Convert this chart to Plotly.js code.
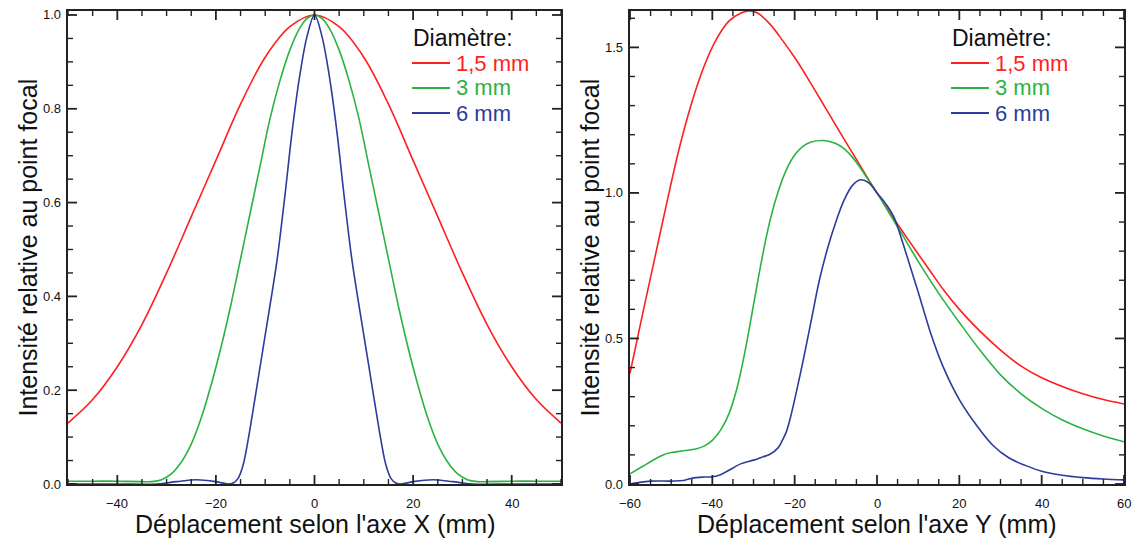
<!DOCTYPE html>
<html>
<head>
<meta charset="utf-8">
<script src="https://cdn.plot.ly/plotly-3.0.1.min.js"></script>
<style>html,body{margin:0;padding:0;background:#fff;}#chart{width:1136px;height:539px;}</style>
</head>
<body>
<div id="chart"></div>
<script>
// ---------- Data ----------
const seriesNames = ["1,5 mm", "3 mm", "6 mm"];
const seriesColors = ["#ff1f1f", "#2bb341", "#2b3c9c"];
const legendTitle = "Diamètre:";
const xTitleLeft = "Déplacement selon l'axe X (mm)";
const xTitleRight = "Déplacement selon l'axe Y (mm)";
const yTitle = "Intensité relative au point focal";

// tick labels
const xTicksLeft = [-40, -20, 0, 20, 40];
const yTicksLeft = [0, 0.2, 0.4, 0.6, 0.8, 1.0];
const xTicksRight = [-60, -40, -20, 0, 20, 40, 60];
const yTicksRight = [0, 0.5, 1.0, 1.5];

// Left panel (axe X)
const xLeftRed = [-50,-45,-40,-35,-30,-25,-20,-15,-10,-5,0,5,10,15,20,25,30,35,40,45,50];
const yLeftRed = [0.13,0.18,0.25,0.34,0.45,0.57,0.69,0.81,0.91,0.975,1.0,0.975,0.91,0.81,0.69,0.57,0.45,0.34,0.25,0.18,0.13];

const xLeftGreen = [-50,-45,-40,-35,-33,-31,-29,-27,-25,-23,-21,-19,-17,-15,-13,-11,-9,-7,-5,-3,-1.5,0,1.5,3,5,7,9,11,13,15,17,19,21,23,25,27,29,31,33,35,40,45,50];
const yLeftGreen = [0.006,0.006,0.006,0.005,0.005,0.009,0.022,0.047,0.085,0.14,0.21,0.29,0.38,0.48,0.58,0.68,0.78,0.86,0.925,0.972,0.993,1.0,0.993,0.972,0.925,0.86,0.78,0.68,0.58,0.48,0.38,0.29,0.21,0.14,0.085,0.047,0.022,0.009,0.005,0.005,0.006,0.006,0.006];

const xLeftBlue = [-50,-40,-32,-28,-24,-20,-17.5,-16.5,-15.5,-14.5,-13.5,-12.5,-11.5,-10.5,-9.5,-8.5,-7.5,-6,-4.5,-3,-1.5,0,1.5,3,4.5,6,7.5,8.5,9.5,10.5,11.5,12.5,13.5,14.5,15.5,16.5,17.5,20,24,28,32,40,50];
const yLeftBlue = [0,0,0,0.005,0.009,0.005,0,0.002,0.012,0.04,0.092,0.155,0.22,0.285,0.35,0.415,0.485,0.615,0.755,0.87,0.955,1.0,0.955,0.87,0.755,0.615,0.485,0.415,0.35,0.285,0.22,0.155,0.092,0.04,0.012,0.002,0,0.005,0.009,0.005,0,0,0];

// Right panel (axe Y)
const xRightRed = [-60,-57,-54,-51,-48,-45,-42,-39,-36,-33,-31,-29,-26,-23,-20,-17,-14,-11,-8,-5,-2,0,3,6,10,13,16,20,25,30,35,40,45,50,55,60];
const yRightRed = [0.38,0.58,0.775,0.97,1.155,1.31,1.435,1.528,1.59,1.618,1.625,1.618,1.58,1.525,1.465,1.398,1.327,1.256,1.185,1.115,1.045,1.0,0.935,0.872,0.79,0.73,0.67,0.6,0.525,0.46,0.405,0.365,0.335,0.31,0.29,0.275];

const xRightGreen = [-60,-57,-54,-52,-50,-47,-44,-42,-40,-38,-36,-34,-32,-30,-28,-26,-24,-22,-20,-18,-16,-13,-10,-8,-6,-4,-2,0,3,6,10,15,20,25,30,35,40,45,50,55,60];
const yRightGreen = [0.035,0.06,0.085,0.1,0.108,0.114,0.12,0.13,0.15,0.185,0.24,0.33,0.46,0.615,0.77,0.905,1.005,1.08,1.13,1.16,1.175,1.18,1.17,1.152,1.123,1.085,1.043,1.0,0.93,0.86,0.765,0.655,0.555,0.46,0.375,0.31,0.26,0.22,0.19,0.165,0.145];

const xRightBlue = [-60,-58,-55,-50,-47,-45,-42,-40,-38,-35,-33,-30,-28,-26,-24,-23,-22,-21,-20,-18,-16,-14,-12,-10,-8,-6,-4,-2,0,2,4,6,8,10,13,16,20,24,28,32,36,40,45,50,55,60];
const yRightBlue = [0.0,0.005,0.01,0.01,0.012,0.02,0.024,0.025,0.032,0.055,0.07,0.082,0.092,0.102,0.125,0.15,0.18,0.23,0.29,0.42,0.56,0.70,0.81,0.90,0.975,1.025,1.045,1.035,1.0,0.965,0.92,0.84,0.75,0.66,0.52,0.405,0.29,0.205,0.135,0.09,0.064,0.044,0.03,0.022,0.017,0.014];

// ---------- Build ----------
const W = 1136, H = 539;
const leftX = [68, 561], rightX = [630, 1124], plotY = [11, 484];
const fontFam = "Liberation Sans, Arial, Helvetica, sans-serif";

function line(x, y, i, xa, ya) {
  return {x: x, y: y, type: "scatter", mode: "lines", xaxis: xa, yaxis: ya,
    line: {color: seriesColors[i], width: 1.6, shape: "spline", smoothing: 1},
    name: seriesNames[i], showlegend: false, hoverinfo: "x+y"};
}
const traces = [
  line(xLeftRed, yLeftRed, 0, "x", "y"),
  line(xLeftGreen, yLeftGreen, 1, "x", "y"),
  line(xLeftBlue, yLeftBlue, 2, "x", "y"),
  line(xRightRed, yRightRed, 0, "x2", "y2"),
  line(xRightGreen, yRightGreen, 1, "x2", "y2"),
  line(xRightBlue, yRightBlue, 2, "x2", "y2")
];

// frame axes (box); tick marks are added below as axis-referenced segments
function frameAx(extra) {
  return Object.assign({
    showline: true, linecolor: "#222", linewidth: 1.5, mirror: true,
    ticks: "", showgrid: false, zeroline: false, showticklabels: false
  }, extra);
}

const px = v => v / W, py = v => 1 - v / H;
const yDom = [1 - plotY[1] / H, 1 - plotY[0] / H];
const annotations = [], shapes = [];
const tickFont = {family: fontFam, size: 13, color: "#111"};
const titleFont = {family: fontFam, size: 25, color: "#111"};
const fmtX = v => (v < 0 ? "\u2212" + Math.abs(v) : String(v));
const fmtY = v => v.toFixed(1);

// inward tick marks on all four sides (major and minor)
function tickMarks(xa, ya, xRange, xMajor, xStep, yRange, yMajor, yStep, wPx, hPx) {
  const isMajor = (arr, v) => arr.some(m => Math.abs(m - v) < 1e-6);
  const nx = Math.floor((xRange[1] - xRange[0]) / xStep + 1e-6);
  for (let i = 0; i <= nx; i++) {
    const v = xRange[0] + i * xStep;
    const maj = isMajor(xMajor, v);
    const f = (maj ? 9 : 5) / hPx;
    const st = {color: "#222", width: maj ? 1.8 : 1.4};
    shapes.push({type: "line", xref: xa, yref: ya + " domain", x0: v, x1: v, y0: 0, y1: f, line: st});
    shapes.push({type: "line", xref: xa, yref: ya + " domain", x0: v, x1: v, y0: 1, y1: 1 - f, line: st});
  }
  const ny = Math.floor((yRange[1] - yRange[0]) / yStep + 1e-6);
  for (let i = 0; i <= ny; i++) {
    const v = yRange[0] + i * yStep;
    const maj = isMajor(yMajor, v);
    const f = (maj ? 9 : 5) / wPx;
    const st = {color: "#222", width: maj ? 1.8 : 1.4};
    shapes.push({type: "line", xref: xa + " domain", yref: ya, x0: 0, x1: f, y0: v, y1: v, line: st});
    shapes.push({type: "line", xref: xa + " domain", yref: ya, x0: 1, x1: 1 - f, y0: v, y1: v, line: st});
  }
}
const plotH = plotY[1] - plotY[0];
tickMarks("x", "y", [-50, 50], xTicksLeft, 5, [0, 1.0085], yTicksLeft, 0.05, leftX[1] - leftX[0], plotH);
tickMarks("x2", "y2", [-60, 60], xTicksRight, 5, [0, 1.625], yTicksRight, 0.1, rightX[1] - rightX[0], plotH);

// tick labels and axis titles placed through the axes' own scales
function axisText(xa, ya, xt, yt, xTitle) {
  xt.forEach(v => annotations.push({xref: xa, yref: ya + " domain", x: v, y: 0, yanchor: "middle", yshift: -19,
    text: fmtX(v), showarrow: false, font: tickFont}));
  yt.forEach(v => annotations.push({xref: xa + " domain", yref: ya, x: 0, y: v, xanchor: "right", yanchor: "middle", xshift: -5,
    text: fmtY(v), showarrow: false, font: tickFont}));
  annotations.push({xref: xa + " domain", yref: ya + " domain", x: 0.5, y: 0, xanchor: "center", yanchor: "middle", yshift: -40,
    text: xTitle, showarrow: false, font: titleFont});
  annotations.push({xref: xa + " domain", yref: ya + " domain", x: 0, y: 0.5, xanchor: "center", yanchor: "middle", xshift: -41,
    textangle: -90, text: yTitle, showarrow: false, font: titleFont});
}
axisText("x", "y", xTicksLeft, yTicksLeft, xTitleLeft);
axisText("x2", "y2", xTicksRight, yTicksRight, xTitleRight);

// Legend (annotations + key lines)
function legendBlock(x0) {
  annotations.push({xref: "paper", yref: "paper", x: px(x0 - 1), y: py(38), xanchor: "left", yanchor: "middle",
    text: legendTitle, showarrow: false, font: {family: fontFam, size: 23, color: "#111"}});
  const rows = [63, 88, 113];
  seriesNames.forEach((n, i) => {
    shapes.push({type: "line", xref: "paper", yref: "paper", x0: px(x0), x1: px(x0 + 38), y0: py(rows[i]), y1: py(rows[i]),
      line: {color: seriesColors[i], width: 2}});
    annotations.push({xref: "paper", yref: "paper", x: px(x0 + 42), y: py(rows[i]), xanchor: "left", yanchor: "middle",
      text: n, showarrow: false, font: {family: fontFam, size: 22, color: seriesColors[i]}});
  });
}
legendBlock(412);
legendBlock(951);

const layout = {
  width: W, height: H, margin: {l: 0, r: 0, t: 0, b: 0},
  paper_bgcolor: "#fff", plot_bgcolor: "#fff", showlegend: false,
  xaxis: frameAx({domain: [px(leftX[0]), px(leftX[1])], range: [-50, 50], anchor: "y"}),
  yaxis: frameAx({domain: yDom, range: [0, 1.0085], anchor: "x"}),
  xaxis2: frameAx({domain: [px(rightX[0]), px(rightX[1])], range: [-60, 60], anchor: "y2"}),
  yaxis2: frameAx({domain: yDom, range: [0, 1.625], anchor: "x2"}),
  annotations: annotations, shapes: shapes
};

Plotly.newPlot("chart", traces, layout, {displayModeBar: false});
</script>
</body>
</html>
